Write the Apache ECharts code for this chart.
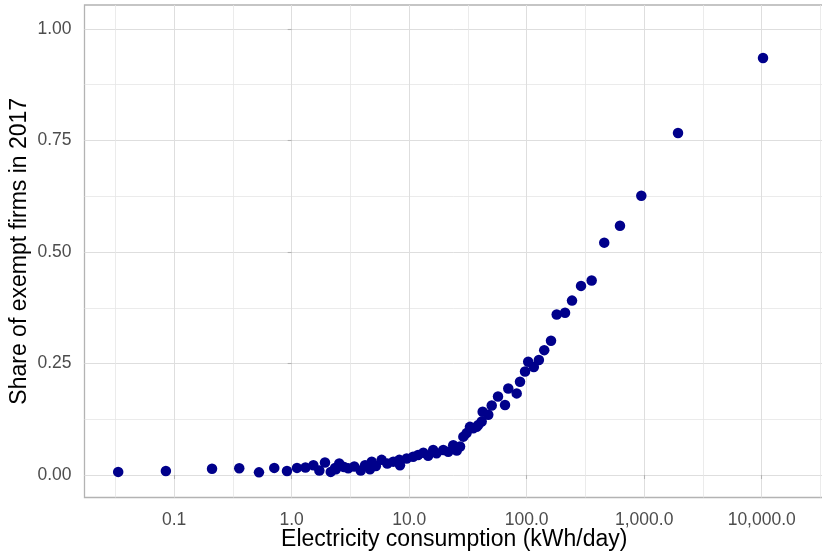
<!DOCTYPE html>
<html>
<head>
<meta charset="utf-8">
<script src="https://cdn.jsdelivr.net/npm/echarts@6/dist/echarts.min.js"></script>
<style>
  html, body { margin: 0; padding: 0; background: #ffffff; }
  #chart { width: 822px; height: 553px; }
</style>
</head>
<body>
<div id="chart"></div>
<script>
// electricity consumption (kWh/day)
var kwh = [0.0334, 0.085, 0.21, 0.358, 0.527, 0.711, 0.912, 1.11, 1.31, 1.53,
    1.72, 1.92, 2.15, 2.34, 2.38, 2.54, 2.79, 3.03, 3.41, 3.87, 4.21,
    4.64, 4.80, 5.21, 5.83, 6.51, 7.32, 8.24, 8.35, 9.52, 10.8,
    11.9, 13.2, 14.5, 16.0, 17.1, 19.5, 21.5, 23.7, 25.4, 27.1,
    28.9, 30.8, 32.9, 35.1, 37.5, 38.7, 41.4, 42.2, 47.1, 50.4,
    57.0, 65.4, 69.7, 82.2, 87.7, 96.8, 103, 115, 127, 141,
    161, 180, 212, 243, 290, 357, 457, 622, 945, 1940, 10260];
// share of exempt firms in 2017
var share = [0.007, 0.009, 0.014, 0.015, 0.006, 0.016, 0.009, 0.016, 0.017, 0.022,
    0.010, 0.028, 0.007, 0.016, 0.013, 0.026, 0.018, 0.015, 0.019, 0.010, 0.022,
    0.013, 0.030, 0.020, 0.034, 0.026, 0.030, 0.034, 0.022, 0.037, 0.041,
    0.045, 0.050, 0.043, 0.056, 0.049, 0.056, 0.052, 0.067, 0.055, 0.064,
    0.086, 0.094, 0.108, 0.105, 0.108, 0.112, 0.120, 0.142, 0.135, 0.156,
    0.176, 0.157, 0.194, 0.183, 0.209, 0.232, 0.254, 0.242, 0.258, 0.280,
    0.301, 0.360, 0.364, 0.391, 0.424, 0.436, 0.521, 0.559, 0.626, 0.767, 0.935];

// x axis works on log10 values
var xMajor = [-1, 0, 1, 2, 3, 4];
var xMinor = [-1.5, -0.5, 0.5, 1.5, 2.5, 3.5, 4.5];
var yMajor = [0, 0.25, 0.5, 0.75, 1];
var yMinor = [0.125, 0.375, 0.625, 0.875];

var points = [];
for (var i = 0; i < kwh.length; i++) {
    points.push([Math.log10(kwh[i]), share[i]]);
}

var xMin = -1.763, xMax = 4.53;
var yMin = -0.0504, yMax = 1.0538;
var fontFam = '"Liberation Sans", Arial, sans-serif';

var chart = echarts.init(document.getElementById('chart'), null, {renderer: 'canvas'});

var option = {
    backgroundColor: '#ffffff',
    animation: false,
    textStyle: { fontFamily: fontFam },
    grid: {
        left: 84.5, top: 5, right: -2, bottom: 55.5,
        outerBoundsMode: 'none',
        containLabel: false,
        show: true,
        backgroundColor: '#ffffff',
        borderColor: '#b3b3b3',
        borderWidth: 1.3
    },
    xAxis: [
        {
            type: 'value',
            min: xMin, max: xMax,
            name: 'Electricity consumption (kWh/day)',
            nameLocation: 'middle',
            nameGap: 31,
            nameMoveOverlap: false,
            nameTextStyle: { color: '#000000', fontSize: 23, fontFamily: fontFam },
            axisLine: { show: false },
            axisTick: { show: true, length: 4, customValues: xMajor, lineStyle: { color: '#b3b3b3', width: 1.1 } },
            axisLabel: {
                customValues: xMajor,
                margin: 14,
                color: '#4d4d4d',
                fontSize: 17.5,
                fontFamily: fontFam,
                formatter: function (v) {
                    return Math.pow(10, v).toLocaleString('en-US', {minimumFractionDigits: 1, maximumFractionDigits: 1});
                }
            },
            splitLine: { show: true, lineStyle: { color: '#dedede', width: 1 } }
        },
        {
            // minor grid lines only
            type: 'value',
            position: 'bottom',
            min: xMin, max: xMax,
            axisLine: { show: false },
            axisTick: { show: false, customValues: xMinor },
            axisLabel: { show: false },
            splitLine: { show: true, lineStyle: { color: '#e6e6e6', width: 0.8 } }
        }
    ],
    yAxis: [
        {
            type: 'value',
            min: yMin, max: yMax,
            name: 'Share of exempt firms in 2017',
            nameLocation: 'middle',
            nameRotate: 90,
            nameGap: 53,
            nameMoveOverlap: false,
            nameTextStyle: { color: '#000000', fontSize: 23, fontFamily: fontFam },
            axisLine: { show: false },
            axisTick: { show: true, length: 4, customValues: yMajor, lineStyle: { color: '#b3b3b3', width: 1.1 } },
            axisLabel: {
                customValues: yMajor,
                margin: 13,
                color: '#4d4d4d',
                fontSize: 17.5,
                fontFamily: fontFam,
                formatter: function (v) { return v.toFixed(2); }
            },
            splitLine: { show: true, lineStyle: { color: '#dedede', width: 1 } }
        },
        {
            type: 'value',
            position: 'left',
            min: yMin, max: yMax,
            axisLine: { show: false },
            axisTick: { show: false, customValues: yMinor },
            axisLabel: { show: false },
            splitLine: { show: true, lineStyle: { color: '#e6e6e6', width: 0.8 } }
        }
    ],
    series: [
        {
            type: 'scatter',
            xAxisIndex: 0,
            yAxisIndex: 0,
            data: points,
            symbol: 'circle',
            symbolSize: 10.5,
            itemStyle: { color: '#00008b', opacity: 1 }
        }
    ]
};

chart.setOption(option);
</script>
</body>
</html>
